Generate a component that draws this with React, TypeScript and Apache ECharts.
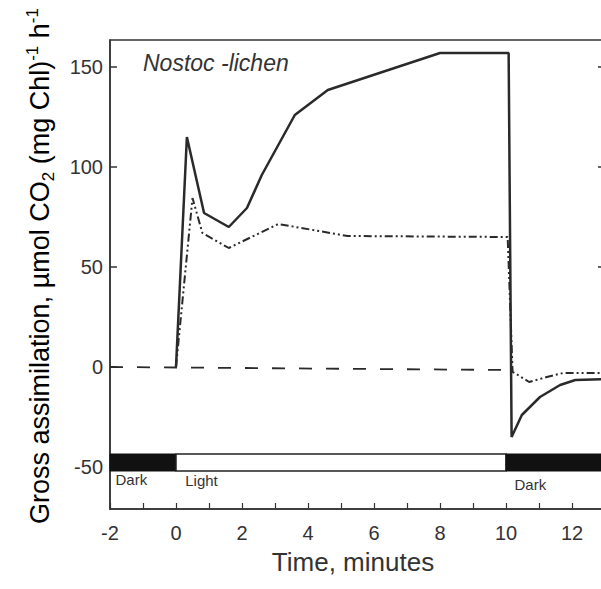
import React, { useEffect, useRef } from 'react';
import * as echarts from 'echarts';

// Time axis (minutes)
const xTickValues = [-2, -1, 0, 1, 2, 3, 4, 5, 6, 7, 8, 9, 10, 11, 12, 13];
const xLabelValues = [-2, 0, 2, 4, 6, 8, 10, 12];
const yLabelValues = [-50, 0, 50, 100, 150];
const yRightTicks = [50, 100, 150];

// Solid line: gross assimilation
const solidT = [0, 0.33, 0.85, 1.6, 2.15, 2.6, 3.6, 4.6, 8.0, 10.08, 10.17, 10.48, 11.03, 11.64, 12.1, 13];
const solidV = [0, 115, 77, 70, 79.5, 96, 126, 138.5, 157, 157, -35, -24, -15, -9, -6.5, -6];

// Dash-dot-dot line
const dotT = [0, 0.5, 0.8, 1.6, 3.1, 5.2, 10.05, 10.2, 10.36, 10.7, 11.24, 11.73, 13];
const dotV = [0, 84.5, 67, 59.5, 71.5, 65.5, 65, -2.5, -4, -7.5, -5, -3, -3];

// Dashed baseline
const baseT = [-2, 10];
const baseV = [0, -1.5];

// Light/dark periods
const periodLabels = ['Dark', 'Light', 'Dark'];
const periodStart = [-2, 0, 10];
const periodEnd = [0, 10, 13];
const periodDark = [true, false, true];

const zip = (a: number[], b: number[]) => a.map((v, i) => [v, b[i]]);

export default function App() {
  const ref = useRef<HTMLDivElement>(null);
  useEffect(() => {
    const chart = echarts.init(ref.current!, undefined, { renderer: 'svg' });
    const font = 'Liberation Sans, Arial, sans-serif';
    const ink = '#2a2a2a';
    const barTop = -43.5;
    const barBottom = -52;
    const labelOffsets = [[6, 26], [10, 27], [9, 31]];
    const markData = periodLabels.map((lab, i) => [
      {
        xAxis: periodStart[i],
        yAxis: barTop,
        itemStyle: periodDark[i]
          ? { color: '#111', borderColor: '#111', borderWidth: 1 }
          : { color: '#fff', borderColor: '#222', borderWidth: 1.5 },
        label: {
          show: true,
          formatter: lab,
          position: labelOffsets[i],
          align: 'left',
          verticalAlign: 'middle',
          color: '#333',
          fontSize: 15,
          fontFamily: font,
        },
      },
      { xAxis: periodEnd[i], yAxis: barBottom },
    ]);
    chart.setOption({
      animation: false,
      backgroundColor: '#fff',
      grid: {
        left: 110,
        right: 15,
        top: 40,
        bottom: 80,
        show: true,
        borderColor: '#333',
        borderWidth: 1.5,
        backgroundColor: 'transparent',
      },
      xAxis: {
        type: 'value',
        min: -2,
        max: 13,
        splitLine: { show: false },
        axisLine: { show: true, onZero: false, lineStyle: { color: '#333', width: 1.5 } },
        axisTick: {
          show: true,
          inside: true,
          length: 6,
          customValues: xTickValues,
          lineStyle: { color: '#333', width: 1.2 },
        },
        axisLabel: {
          customValues: xLabelValues,
          color: '#333',
          fontSize: 20,
          fontFamily: font,
          margin: 14,
        },
      },
      yAxis: [
        {
          type: 'value',
          min: -71,
          max: 163.5,
          splitLine: { show: false },
          axisLine: { show: true, onZero: false, lineStyle: { color: '#333', width: 1.5 } },
          axisTick: {
            show: true,
            inside: true,
            length: 7,
            customValues: yLabelValues,
            lineStyle: { color: '#333', width: 1.5 },
          },
          axisLabel: {
            customValues: yLabelValues,
            color: '#333',
            fontSize: 20,
            fontFamily: font,
            margin: 7,
          },
        },
        {
          type: 'value',
          position: 'right',
          min: -71,
          max: 163.5,
          splitLine: { show: false },
          axisLine: { show: true, onZero: false, lineStyle: { color: '#333', width: 1.5 } },
          axisTick: {
            show: true,
            inside: true,
            length: 7,
            customValues: yRightTicks,
            lineStyle: { color: '#333', width: 1.5 },
          },
          axisLabel: { show: false },
        },
      ],
      series: [
        {
          type: 'line',
          data: zip(baseT, baseV),
          symbol: 'none',
          lineStyle: { color: ink, width: 1.8, type: [13, 14] },
          markArea: { silent: true, data: markData },
          z: 2,
        },
        {
          type: 'line',
          data: zip(dotT, dotV),
          symbol: 'none',
          lineStyle: { color: ink, width: 2, type: [8, 3, 2, 3, 2, 3] },
          z: 3,
        },
        {
          type: 'line',
          data: zip(solidT, solidV),
          symbol: 'none',
          lineStyle: { color: ink, width: 2.5 },
          z: 4,
        },
      ],
      graphic: [
        {
          type: 'text',
          x: 143,
          y: 63,
          style: {
            text: 'Nostoc -lichen',
            font: `italic 23px ${font}`,
            fill: '#333',
            align: 'left',
            verticalAlign: 'middle',
          },
        },
        {
          type: 'text',
          x: 353,
          y: 562,
          style: {
            text: 'Time, minutes',
            font: `26px ${font}`,
            fill: '#333',
            align: 'center',
            verticalAlign: 'middle',
          },
        },
        {
          type: 'text',
          x: 40,
          y: 266,
          rotation: Math.PI / 2,
          style: {
            text: '{a|Gross assimilation, µmol CO}{sub|2}{a| (mg Chl)}{sup|-1}{a| h}{sup|-1}',
            align: 'center',
            verticalAlign: 'middle',
            rich: {
              a: { fontSize: 27, fontFamily: font, color: '#333', lineHeight: 33 },
              sub: { fontSize: 17, fontFamily: font, color: '#333', lineHeight: 17, verticalAlign: 'bottom' },
              sup: { fontSize: 17, fontFamily: font, color: '#333', lineHeight: 17, verticalAlign: 'top' },
            },
          },
        },
      ],
    });
    return () => chart.dispose();
  }, []);
  return (
    <div
      style={{
        position: 'fixed',
        left: 0,
        top: 0,
        width: 601,
        height: 589,
        overflow: 'hidden',
        background: '#fff',
      }}
    >
      <div ref={ref} style={{ width: 620, height: 589 }} />
    </div>
  );
}
